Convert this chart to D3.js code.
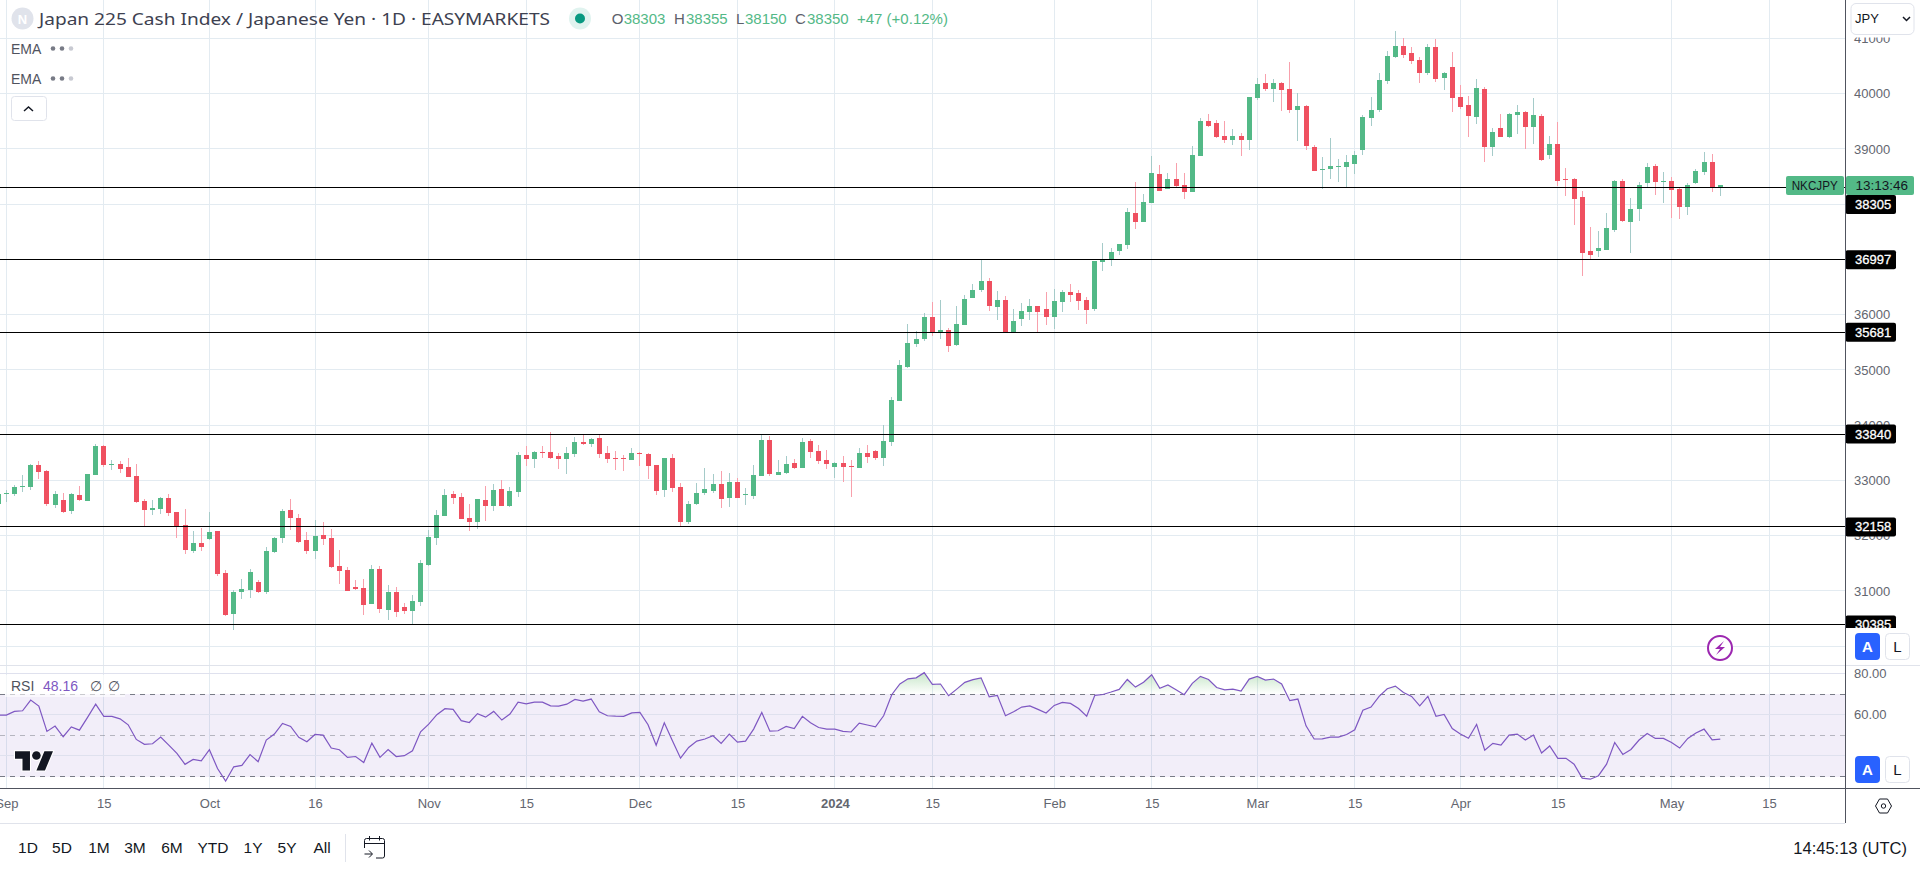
<!DOCTYPE html>
<html>
<head>
<meta charset="utf-8">
<script src="https://cdn.jsdelivr.net/npm/d3@7"></script>
<style>
  html, body { margin: 0; padding: 0; background: #fff; overflow: hidden; }
  svg { display: block; font-family: "Liberation Sans", Arial, sans-serif; }
  .axis text { fill: #63666f; font-size: 13px; font-family: "Liberation Sans", Arial, sans-serif; }
  .axis .domain { display: none; }
</style>
</head>
<body>
<div id="chart"></div>
<script>
// Daily candles
var opens = [32575,32756,32756,32882,32882,33280,33172,32557,32647,32448,32737,32629,33099,33624,33280,33298,33244,33081,32629,32466,32484,32683,32430,32195,31724,31869,31941,32086,31326,30585,30983,31019,31164,30983,31706,31960,32466,32321,31923,31724,32014,31960,31453,31381,31073,31055,30766,31399,30657,30983,30711,30639,30802,31471,31960,32358,32756,32701,32321,32249,32647,32538,32846,32538,32792,33461,33389,33515,33515,33443,33389,33479,33696,33660,33769,33497,33407,33407,33371,33497,33479,33280,32828,33407,32882,32249,32575,32774,32810,32936,32683,32973,32737,32719,33081,33732,33099,33135,33316,33226,33714,33533,33371,33244,33316,33262,33226,33497,33533,33407,33696,34438,35053,35469,35559,35957,35686,35722,35451,35812,36301,36446,36608,36138,36265,35686,35921,36048,36156,36102,35957,36229,36409,36391,36265,36102,36952,36988,37151,37260,37839,37676,38020,38544,38273,38454,38345,38219,38870,39503,39467,39232,39159,39232,39159,39919,40190,40082,40190,40082,39702,39774,39033,38616,38635,38671,38671,38725,38978,39557,39702,40227,40661,40860,40733,40606,40371,40842,40281,40480,39937,39792,39575,40082,39033,39376,39213,39611,39666,39395,39594,38888,39087,38454,38454,38128,37151,37151,37169,37531,38418,37676,37911,38382,38689,38400,38418,38273,37947,38382,38581,38761,38303];
var highs = [32792,32828,32918,33099,33298,33353,33190,32810,32774,32774,32900,33117,33660,33642,33371,33353,33407,33298,32665,32647,32701,32756,32430,32484,32086,32140,32430,32086,31381,31019,31218,31399,31200,31797,31978,32484,32665,32394,32068,32285,32249,32122,31742,31435,31200,31218,31471,31453,31109,31073,30784,30928,31562,32104,32466,32846,32810,32774,32575,32665,32900,32936,33009,32882,33515,33624,33533,33624,33877,33497,33606,33787,33841,33769,33841,33624,33533,33461,33588,33515,33497,33280,33407,33479,32955,32629,32955,33226,33117,33172,33135,33045,32864,33280,33841,33805,33371,33443,33389,33769,33750,33642,33551,33334,33443,33371,33588,33642,33551,34004,34510,35179,35831,35704,36030,36229,36265,35758,36156,36355,36554,37006,36663,36428,36337,36102,36210,36283,36156,36409,36464,36446,36554,36446,36319,36970,37296,37205,37278,37929,38399,38182,38870,38707,38562,38743,38562,39051,39557,39630,39521,39503,39358,39286,39937,40281,40353,40263,40208,40570,40009,39792,39069,38852,39195,38815,38888,38960,39611,39937,40371,40769,41131,41004,40842,40661,40896,40986,40389,40751,40154,39955,40263,40118,39376,39630,39648,39792,39684,39931,39630,39232,39485,38653,38472,38237,37586,37513,37839,38436,38454,38110,38400,38743,38725,38581,38490,38309,38382,38635,38942,38906,38355];
var lows = [32538,32611,32719,32792,32828,33027,32538,32502,32412,32394,32629,32629,33099,33244,33190,33135,33063,32593,32177,32376,32394,32358,31960,31670,31688,31724,31923,31272,30549,30295,30856,30874,30965,30947,31688,31869,32104,31869,31670,31580,31833,31417,31127,31001,31019,30567,30766,30603,30476,30530,30585,30404,30729,31453,31833,32358,32575,32303,32086,32122,32267,32448,32538,32520,32701,33262,33226,33407,33389,33208,33117,33425,33642,33606,33407,33316,33190,33172,33371,33262,33027,32737,32701,32792,32177,32213,32557,32737,32774,32502,32520,32683,32557,32665,33081,33081,33099,33117,33208,33226,33407,33298,33208,33045,32973,32701,33226,33316,33371,33262,33624,34438,35035,35414,35523,35613,35559,35324,35433,35812,36301,36409,36066,35903,35686,35686,35794,35903,35686,35812,35740,36048,36229,36084,35831,36066,36789,36880,37079,37187,37549,37676,38020,38237,38273,38291,38092,38219,38870,39394,39195,39105,39069,38870,38978,39883,40046,39847,39684,39648,39141,38978,38598,38273,38454,38399,38309,38544,38888,39412,39666,40172,40643,40643,40534,40190,40335,40208,40064,39666,39720,39213,39449,38761,38870,39213,39195,39268,38997,39087,38780,38816,38327,38146,37622,36699,37007,37043,37169,37495,37676,37115,37694,38291,38164,38020,37748,37730,37803,38363,38526,38219,38150];
var closes = [32756,32774,32882,32900,33280,33154,32575,32756,32430,32756,32647,33117,33624,33280,33298,33208,33063,32611,32466,32502,32683,32412,32177,31742,31869,31797,32068,31308,30567,30983,31037,31345,30983,31724,31960,32448,32321,31887,31724,31996,31941,31435,31363,31001,31037,30748,31399,30675,30983,30621,30639,30820,31507,31978,32376,32737,32683,32303,32249,32665,32538,32828,32538,32810,33461,33389,33515,33497,33407,33389,33497,33696,33660,33750,33479,33389,33389,33389,33497,33479,33262,32810,33407,32864,32249,32575,32774,32846,32936,32665,32973,32683,32756,33099,33732,33117,33154,33298,33226,33696,33515,33353,33298,33316,33244,33244,33497,33425,33407,33714,34456,35089,35487,35559,35957,35668,35722,35433,35831,36283,36446,36608,36156,36265,35686,35885,36066,36156,36048,35957,36247,36409,36355,36247,36084,36970,37006,37133,37278,37857,37676,38038,38562,38237,38454,38327,38219,38888,39503,39412,39213,39159,39232,39159,39937,40172,40082,40190,40064,39702,39774,39051,38598,38635,38689,38689,38761,38888,39575,39702,40245,40679,40860,40697,40588,40371,40842,40263,40371,39919,39756,39593,40100,39033,39304,39213,39630,39666,39395,39612,38798,39087,38418,38436,38092,37115,37079,37206,37567,38418,37694,37911,38345,38671,38400,38418,38255,37947,38345,38599,38761,38291,38350];

// RSI(14) for the same bars
var rsiValues = [59.8,59.8,61.6,61.9,67.1,64.2,51.9,54.5,49.3,54.1,52.5,58.7,65.1,59.2,59.2,58.0,55.1,48.0,45.6,45.9,49.1,45.2,41.2,35.9,38.3,37.6,43.0,33.9,27.8,34.7,35.4,40.6,37.2,47.7,50.6,55.8,54.3,49.0,46.9,50.4,50.1,43.8,43.0,39.3,39.7,36.8,46.2,39.3,43.1,39.7,40.1,42.5,51.7,55.4,60.0,62.9,62.6,57.1,56.2,60.5,58.8,61.6,57.4,60.3,66.1,65.3,66.1,66.1,64.3,64.2,65.1,67.4,66.6,67.6,61.4,59.5,59.3,59.2,60.9,61.1,55.1,45.2,56.1,47.3,38.9,44.1,47.2,48.2,49.8,46.1,50.6,46.7,47.2,53.0,61.1,52.0,52.2,54.3,53.3,59.2,56.1,53.8,53.0,53.0,51.9,51.6,55.9,55.0,54.1,59.5,69.7,74.9,77.4,77.9,80.4,74.7,74.9,69.2,72.4,75.7,77.0,77.9,68.7,69.4,59.5,61.4,63.7,64.3,62.6,60.8,64.5,66.0,65.5,63.0,59.3,69.4,69.8,71.0,72.3,77.1,73.4,75.8,79.4,72.8,74.4,72.1,69.7,75.2,78.6,77.1,73.2,72.1,72.4,71.5,77.3,78.6,76.8,77.3,74.9,66.8,67.6,54.6,48.2,48.3,49.1,49.1,50.4,52.7,62.2,63.7,68.9,72.6,73.9,70.8,68.9,64.3,68.9,59.2,60.1,53.3,50.6,48.6,55.3,42.8,46.1,45.2,50.1,50.6,47.7,50.1,41.4,44.8,38.8,38.8,36.0,29.2,28.7,30.4,36.0,46.5,40.7,43.1,47.7,50.9,48.5,48.5,46.5,43.8,48.5,51.1,53.0,47.8,48.16];

// Axes
var priceTicks = [30000,31000,32000,33000,34000,35000,36000,37000,38000,39000,40000,41000];
var levels = [38305,36997,35681,33840,32158,30385];
var rsiTicks = [80,60,40];
var timeTickBars = [1,13,26,39,53,65,79,91,103,115,130,142,155,167,180,192,206,218];
var timeTickLabels = ["Sep","15","Oct","16","Nov","15","Dec","15","2024","15","Feb","15","Mar","15","Apr","15","May","15"];
var ranges = ["1D","5D","1M","3M","6M","YTD","1Y","5Y","All"];
var rangeCentres = [28,62,99,135,172,213,253,287,322];

var width = 1920, height = 872;
var plotRight = 1845;

var green = "#53b987", red = "#ef5060";
var greenWick = "#a5cbc9", redWick = "#f8a0ac";
var gridColor = "#e3ebf1";
var axisDark = "#50535e";

var x = d3.scaleLinear().domain([0, 212]).range([-1.8, 1720.3]);
var y = d3.scaleLinear().domain([30000, 41000]).range([646.21, 38.5]);
var yRsi = d3.scaleLinear().domain([30, 80]).range([776.5, 673.5]);

function snap(v) { return Math.floor(v) + 0.5; }

var svg = d3.select("#chart").append("svg")
    .attr("width", width)
    .attr("height", height)
    .attr("viewBox", "0 0 " + width + " " + height);

var crisp = svg.append("g").attr("shape-rendering", "crispEdges");

// Vertical grid, both panes
crisp.append("g").selectAll("line")
    .data(timeTickBars)
    .join("line")
    .attr("x1", function (d) { return snap(x(d)); })
    .attr("x2", function (d) { return snap(x(d)); })
    .attr("y1", 0)
    .attr("y2", 788)
    .attr("stroke", gridColor);

// Horizontal grid, price pane
crisp.append("g").selectAll("line")
    .data(priceTicks)
    .join("line")
    .attr("x1", 0)
    .attr("x2", plotRight)
    .attr("y1", function (d) { return snap(y(d)); })
    .attr("y2", function (d) { return snap(y(d)); })
    .attr("stroke", gridColor);

// RSI band and its grid
crisp.append("rect")
    .attr("x", 0)
    .attr("width", plotRight)
    .attr("y", yRsi(70))
    .attr("height", yRsi(30) - yRsi(70))
    .attr("fill", "#7e57c2")
    .attr("fill-opacity", 0.1);

crisp.append("g").selectAll("line")
    .data(rsiTicks)
    .join("line")
    .attr("x1", 0)
    .attr("x2", plotRight)
    .attr("y1", function (d) { return snap(yRsi(d)); })
    .attr("y2", function (d) { return snap(yRsi(d)); })
    .attr("stroke", "#dfe1ee");

// Candles
var candles = crisp.append("g").selectAll("g")
    .data(opens)
    .join("g");

candles.append("rect")
    .attr("x", function (d, i) { return Math.floor(x(i)); })
    .attr("width", 1)
    .attr("y", function (d, i) { return y(highs[i]); })
    .attr("height", function (d, i) { return y(lows[i]) - y(highs[i]); })
    .attr("fill", function (d, i) { return closes[i] >= d ? greenWick : redWick; });

candles.append("rect")
    .attr("x", function (d, i) { return Math.floor(x(i)) - 2; })
    .attr("width", 5)
    .attr("y", function (d, i) { return y(Math.max(d, closes[i])); })
    .attr("height", function (d, i) { return Math.max(1, Math.abs(y(d) - y(closes[i]))); })
    .attr("fill", function (d, i) { return closes[i] >= d ? green : red; });

// Support / resistance levels
crisp.append("g").selectAll("line")
    .data(levels)
    .join("line")
    .attr("x1", 0)
    .attr("x2", plotRight)
    .attr("y1", function (d) { return snap(y(d)); })
    .attr("y2", function (d) { return snap(y(d)); })
    .attr("stroke", "#000");

// RSI overbought fill
var defs = svg.append("defs");
var grad = defs.append("linearGradient")
    .attr("id", "obFill")
    .attr("gradientUnits", "userSpaceOnUse")
    .attr("x1", 0).attr("x2", 0)
    .attr("y1", yRsi(80)).attr("y2", yRsi(70));
grad.append("stop").attr("offset", 0).attr("stop-color", "#4caf50").attr("stop-opacity", 0.3);
grad.append("stop").attr("offset", 1).attr("stop-color", "#4caf50").attr("stop-opacity", 0);
defs.append("clipPath").attr("id", "aboveOb").append("rect")
    .attr("x", 0).attr("width", plotRight)
    .attr("y", 665).attr("height", yRsi(70) - 665);

svg.append("path")
    .datum(rsiValues)
    .attr("clip-path", "url(#aboveOb)")
    .attr("fill", "url(#obFill)")
    .attr("d", d3.area()
        .x(function (d, i) { return x(i); })
        .y0(yRsi(70))
        .y1(function (d) { return yRsi(d); }));

// RSI dashed levels
[[70, 1], [50, 0.5], [30, 1]].forEach(function (l) {
    crisp.append("line")
        .attr("x1", 0).attr("x2", plotRight)
        .attr("y1", snap(yRsi(l[0]))).attr("y2", snap(yRsi(l[0])))
        .attr("stroke", "#787b86")
        .attr("stroke-opacity", l[1])
        .attr("stroke-dasharray", "5,5");
});

svg.append("path")
    .datum(rsiValues)
    .attr("fill", "none")
    .attr("stroke", "#7e57c2")
    .attr("stroke-width", 1.2)
    .attr("d", d3.line()
        .x(function (d, i) { return x(i); })
        .y(function (d) { return yRsi(d); }));

// Frame
var axisBg = svg.append("g");
axisBg.append("rect").attr("x", plotRight).attr("y", 0).attr("width", 75).attr("height", 823).attr("fill", "#fff");
axisBg.append("rect").attr("x", 0).attr("y", 788.5).attr("width", width).attr("height", 34).attr("fill", "#fff");

// Price axis
svg.append("g")
    .attr("class", "axis")
    .attr("transform", "translate(" + plotRight + ",0)")
    .call(d3.axisRight(y).tickValues(priceTicks).tickFormat(d3.format("d")).tickSize(0).tickPadding(9));

// Last price labels
var labelTop = 176, labelH = 19;

svg.append("rect").attr("x", 1786).attr("y", labelTop).attr("width", 58).attr("height", labelH).attr("rx", 2).attr("fill", green);
svg.append("rect").attr("x", 1846).attr("y", labelTop).attr("width", 68).attr("height", labelH).attr("rx", 2).attr("fill", green);
svg.append("text").attr("x", 1791.7).attr("y", labelTop + 14)
    .attr("font-size", 13).attr("fill", "#131722")
    .attr("textLength", 46).attr("lengthAdjust", "spacingAndGlyphs").text("NKCJPY");
svg.append("text").attr("x", 1855.5).attr("y", labelTop + 14)
    .attr("font-size", 13.5).attr("fill", "#131722").text("13:13:46");

// Level labels, pushed below the last price tag when they would collide
var levelLabel = svg.append("g").selectAll("g")
    .data(levels)
    .join("g")
    .attr("transform", function (d) {
        var top = y(d) - labelH / 2;
        if (top < labelTop + labelH && top + labelH > labelTop) top = labelTop + labelH;
        return "translate(1845.5," + top + ")";
    });
levelLabel.append("rect").attr("width", 50.5).attr("height", labelH).attr("rx", 2).attr("fill", "#000");
levelLabel.append("text").attr("x", 9.5).attr("y", 14)
    .attr("font-size", 13).attr("fill", "#fff")
    .attr("stroke", "#fff").attr("stroke-width", 0.3)
    .text(function (d) { return d; });

// Covers under the scale buttons and the currency select
svg.append("rect").attr("x", 1846).attr("y", 628).attr("width", 74).attr("height", 37).attr("fill", "#fff");
svg.append("rect").attr("x", 1846).attr("y", 0).attr("width", 74).attr("height", 37.5).attr("fill", "#fff");

// RSI axis
svg.append("g")
    .attr("class", "axis")
    .attr("transform", "translate(" + plotRight + ",0)")
    .call(d3.axisRight(yRsi).tickValues(rsiTicks).tickFormat(d3.format(".2f")).tickSize(0).tickPadding(9));
svg.append("rect").attr("x", 1846).attr("y", 750).attr("width", 74).attr("height", 38).attr("fill", "#fff");

// Time axis
var timeAxis = svg.append("g")
    .attr("class", "axis")
    .attr("transform", "translate(0,788)")
    .call(d3.axisBottom(x).tickValues(timeTickBars)
        .tickFormat(function (d, i) { return timeTickLabels[i]; })
        .tickSize(0).tickPadding(11));
timeAxis.selectAll("text").attr("font-weight", function (d, i) { return timeTickLabels[i] === "2024" ? "bold" : null; });

// Frame lines
var frame = svg.append("g").attr("shape-rendering", "crispEdges");
frame.append("line").attr("x1", 0).attr("x2", width).attr("y1", 665.5).attr("y2", 665.5).attr("stroke", "#e0e3eb");
frame.append("line").attr("x1", 0).attr("x2", width).attr("y1", 788.5).attr("y2", 788.5).attr("stroke", axisDark);
frame.append("line").attr("x1", 0).attr("x2", plotRight).attr("y1", 823.5).attr("y2", 823.5).attr("stroke", "#e0e3eb");
frame.append("line").attr("x1", plotRight + 0.5).attr("x2", plotRight + 0.5).attr("y1", 0).attr("y2", 823).attr("stroke", axisDark);

// Scale buttons
function scaleButtons(top) {
    var g = svg.append("g").attr("transform", "translate(0," + top + ")");
    g.append("rect").attr("x", 1855).attr("width", 25).attr("height", 27).attr("rx", 4).attr("fill", "#2962ff");
    g.append("text").attr("x", 1867.5).attr("y", 19).attr("text-anchor", "middle")
        .attr("font-size", 15).attr("font-weight", "bold").attr("fill", "#fff").text("A");
    g.append("rect").attr("x", 1885.5).attr("y", 0.5).attr("width", 24).attr("height", 26).attr("rx", 4)
        .attr("fill", "#fff").attr("stroke", "#e0e3eb");
    g.append("text").attr("x", 1897.5).attr("y", 19).attr("text-anchor", "middle")
        .attr("font-size", 15).attr("fill", "#131722").text("L");
}
scaleButtons(633);
scaleButtons(756);

// Currency select
svg.append("rect").attr("x", 1851).attr("y", 3.5).attr("width", 63).attr("height", 31).attr("rx", 5)
    .attr("fill", "#fff").attr("stroke", "#e0e3eb");
svg.append("text").attr("x", 1855).attr("y", 23).attr("font-size", 13).attr("fill", "#131722").text("JPY");
svg.append("path").attr("d", "M1903 17l3.5 3.5 3.5-3.5").attr("fill", "none").attr("stroke", "#131722").attr("stroke-width", 1.5);

// Settings hexagon
svg.append("path").attr("d", "M1875.5 806l4-7h8l4 7-4 7h-8z").attr("fill", "none").attr("stroke", "#131722");
svg.append("circle").attr("cx", 1883.5).attr("cy", 806).attr("r", 2.2).attr("fill", "none").attr("stroke", "#131722");

// Header legend
svg.append("circle").attr("cx", 22.5).attr("cy", 18.5).attr("r", 11).attr("fill", "#e0e3eb");
svg.append("text").attr("x", 22.5).attr("y", 23.5).attr("text-anchor", "middle")
    .attr("font-size", 13).attr("font-weight", "bold").attr("fill", "#fff").text("N");
svg.append("text").attr("x", 39).attr("y", 24.5).attr("font-size", 16).attr("fill", "#3d4150")
    .attr("font-family", "'Noto Sans'")
    .attr("textLength", 511).attr("lengthAdjust", "spacingAndGlyphs")
    .text("Japan 225 Cash Index / Japanese Yen \u00b7 1D \u00b7 EASYMARKETS");
svg.append("circle").attr("cx", 580).attr("cy", 18.5).attr("r", 11).attr("fill", "#e0f3ef");
svg.append("circle").attr("cx", 580).attr("cy", 18.5).attr("r", 5).attr("fill", "#089981");

// OHLC readout
var ohlcKeys = ["O", "H", "L", "C"];
var ohlcKeyX = [611.7, 674, 736, 795];
var ohlcValueX = [623.7, 686, 745, 807];
ohlcKeys.forEach(function (k, i) {
    var last = [opens, highs, lows, closes][i];
    svg.append("text").attr("x", ohlcKeyX[i]).attr("y", 24).attr("font-size", 15).attr("fill", "#5d606b").text(k);
    svg.append("text").attr("x", ohlcValueX[i]).attr("y", 24).attr("font-size", 15).attr("fill", green).text(last[last.length - 1]);
});
svg.append("text").attr("x", 857).attr("y", 24).attr("font-size", 15).attr("fill", green).text("+47 (+0.12%)");

// EMA rows
[48.5, 78.5].forEach(function (rowY) {
    svg.append("text").attr("x", 11).attr("y", rowY + 5).attr("font-size", 14).attr("fill", "#50535e").text("EMA");
    [[53, "#787b86"], [62, "#787b86"], [71, "#c8cad2"]].forEach(function (dot) {
        svg.append("circle").attr("cx", dot[0]).attr("cy", rowY).attr("r", 2.3).attr("fill", dot[1]);
    });
});

// Collapse button
svg.append("rect").attr("x", 11.5).attr("y", 96.5).attr("width", 35).attr("height", 24).attr("rx", 3)
    .attr("fill", "#fff").attr("stroke", "#e0e3eb");
svg.append("path").attr("d", "M24 111l4.5-4 4.5 4").attr("fill", "none").attr("stroke", "#131722").attr("stroke-width", 1.5);

// RSI legend
svg.append("rect").attr("x", 5).attr("y", 675).attr("width", 120).attr("height", 22).attr("fill", "#fff").attr("fill-opacity", 0.6);
svg.append("text").attr("x", 11).attr("y", 691).attr("font-size", 14).attr("fill", "#50535e").text("RSI");
svg.append("text").attr("x", 43).attr("y", 691).attr("font-size", 14).attr("fill", "#7e57c2").text(rsiValues[rsiValues.length - 1].toFixed(2));
svg.append("text").attr("x", 90).attr("y", 691).attr("font-size", 14).attr("fill", "#50535e").text("\u2205");
svg.append("text").attr("x", 108).attr("y", 691).attr("font-size", 14).attr("fill", "#50535e").text("\u2205");

// Watermark logo
var logo = svg.append("g").attr("transform", "translate(15,747) scale(1.07)")
    .attr("fill", "#131722").attr("stroke", "#fff").attr("stroke-width", 2).attr("paint-order", "stroke");
logo.append("path").attr("d", "M14 22H7V11H0V4h14v18zM28 22h-8l7.5-18h8L28 22z");
logo.append("circle").attr("cx", 20).attr("cy", 8).attr("r", 4);

// Lightning badge
var bolt = svg.append("g").attr("transform", "translate(1720,648)");
bolt.append("circle").attr("r", 12).attr("fill", "#fff").attr("stroke", "#9c27b0").attr("stroke-width", 2);
bolt.append("path").attr("d", "M4 -7L-5 1H0L-4 7L5 -1H0Z").attr("fill", "#9c27b0");

// Bottom toolbar
svg.append("g").selectAll("text")
    .data(ranges)
    .join("text")
    .attr("x", function (d, i) { return rangeCentres[i]; })
    .attr("y", 853)
    .attr("text-anchor", "middle")
    .attr("font-size", 15.5)
    .attr("fill", "#131722")
    .text(function (d) { return d; });
svg.append("line").attr("x1", 345.5).attr("x2", 345.5).attr("y1", 834).attr("y2", 862)
    .attr("stroke", "#e0e3eb").attr("shape-rendering", "crispEdges");

var cal = svg.append("g").attr("transform", "translate(364,836)")
    .attr("fill", "none").attr("stroke", "#131722").attr("stroke-width", 1);
cal.append("path").attr("d", "M0.5 12V4.5a2 2 0 0 1 2-2h16a2 2 0 0 1 2 2V20a2 2 0 0 1-2 2H12");
cal.append("path").attr("d", "M0.5 7.5H20.5M5.5 0V4.5M15.5 0V4.5M0.5 18H8M5 14.5L8.5 18L5 21.5");

svg.append("text").attr("x", 1907).attr("y", 853.5).attr("text-anchor", "end")
    .attr("font-size", 16.5).attr("fill", "#131722").text("14:45:13 (UTC)");
</script>
</body>
</html>
